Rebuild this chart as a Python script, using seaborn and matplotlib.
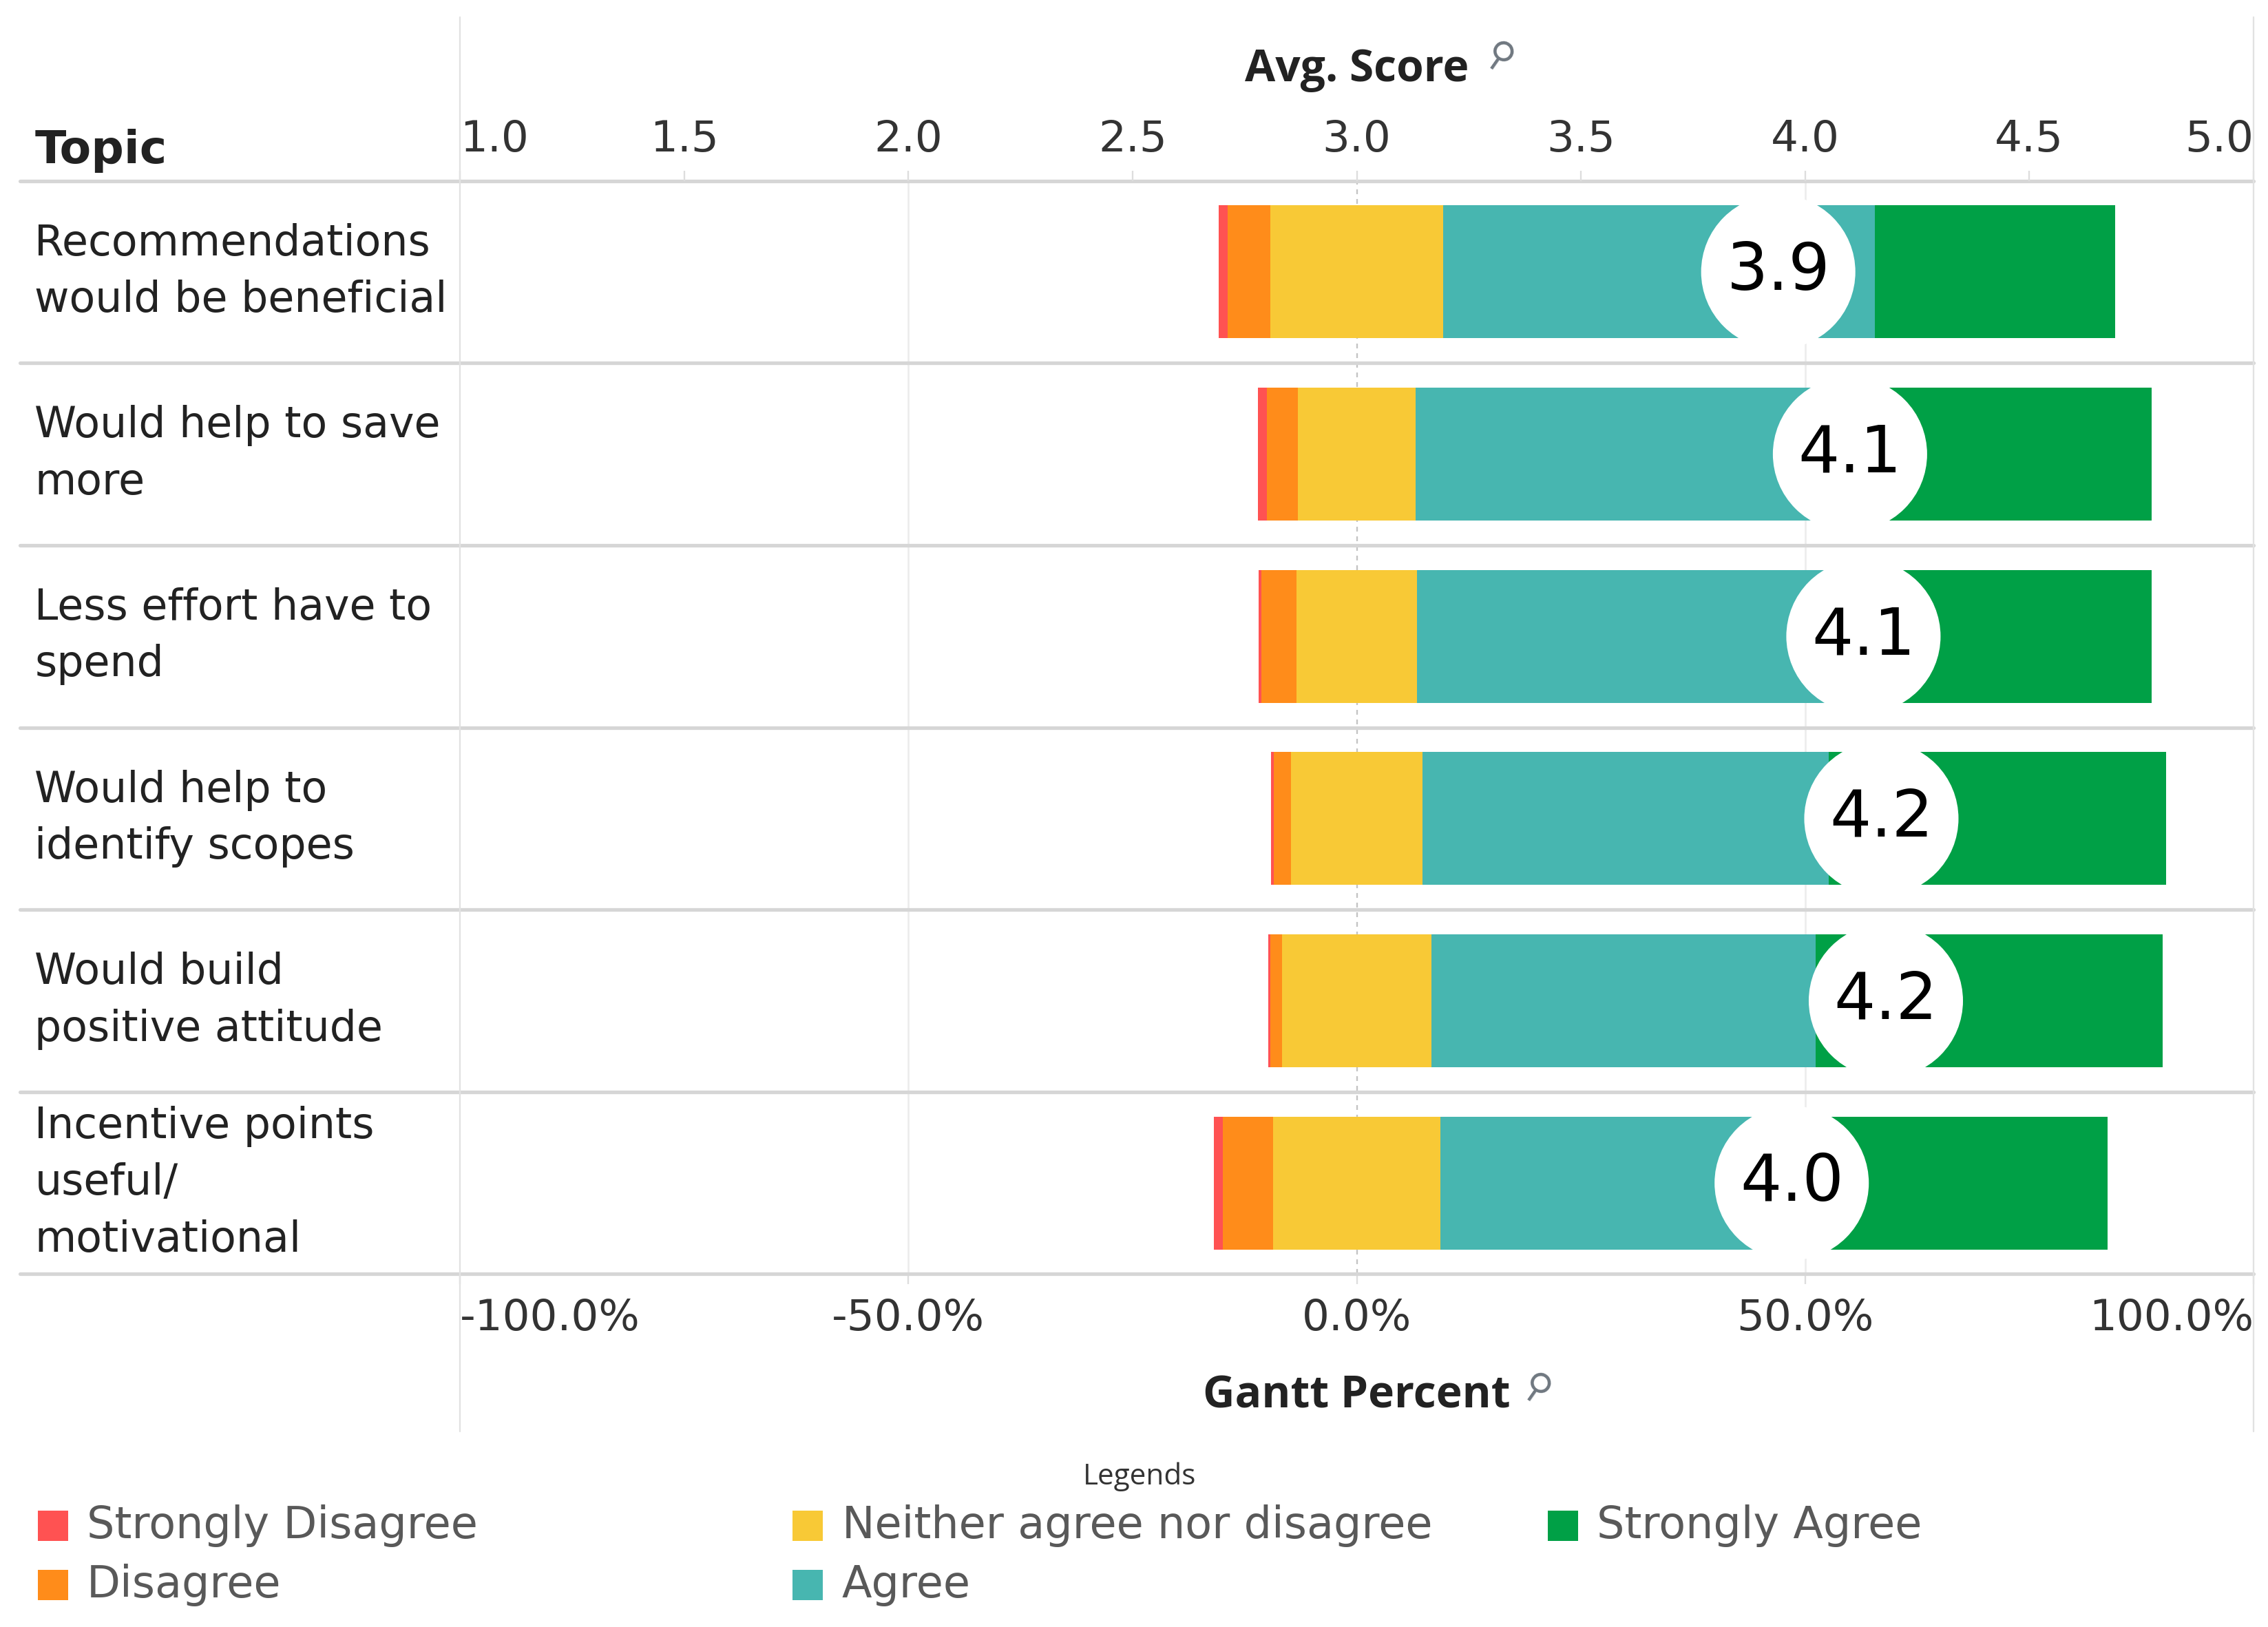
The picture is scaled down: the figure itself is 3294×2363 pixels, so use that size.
import matplotlib
matplotlib.use("Agg")
import numpy as np
import pandas as pd
import seaborn as sns
import matplotlib.pyplot as plt
from matplotlib.transforms import blended_transform_factory
from matplotlib.patches import Rectangle
from matplotlib.lines import Line2D

# survey data (percent of answers per topic)
topics = ["Recommendations\nwould be beneficial",
          "Would help to save\nmore",
          "Less effort have to\nspend",
          "Would help to\nidentify scopes",
          "Would build\npositive attitude",
          "Incentive points\nuseful/\nmotivational"]
levels = ["Strongly Disagree", "Disagree", "Neither agree nor disagree",
          "Agree", "Strongly Agree"]
strongly_disagree = [1.0, 1.0, 0.3, 0.3, 0.3, 1.0]
disagree = [4.8, 3.5, 3.9, 1.9, 1.3, 5.6]
neutral = [19.2, 13.1, 13.5, 14.7, 16.6, 18.7]
agree = [48.2, 47.5, 45.5, 45.3, 42.9, 43.4]
strongly_agree = [26.8, 34.6, 36.4, 37.6, 38.7, 31.0]
avg_score = [3.94, 4.10, 4.13, 4.17, 4.18, 3.97]
colors = ["#FF5252", "#FF8C1A", "#F8C936", "#47B6B0", "#00A046"]

pct_ticks = [-1.0, -0.5, 0.0, 0.5, 1.0]
score_ticks = [1.0, 1.5, 2.0, 2.5, 3.0, 3.5, 4.0, 4.5, 5.0]

sns.set_theme(style="white")
plt.rcParams["font.family"] = ["DejaVu Sans"]
TITLE_FONT = ["Open Sans", "DejaVu Sans"]

W, H = 1568, 1125  # layout helper (reference pixels / 2.1)
fig = plt.figure(figsize=(3294 / 210, 2363 / 210), dpi=210)
ax = fig.add_axes([318 / W, 1 - 881 / H, (1558 - 318) / W, (881 - 125) / H])

shares = pd.DataFrame({
    "topic": topics,
    levels[0]: strongly_disagree,
    levels[1]: disagree,
    levels[2]: neutral,
    levels[3]: agree,
    levels[4]: strongly_agree,
})
rows = np.arange(len(topics))
# diverging: the neutral block is centred on 0
left = -(shares[levels[0]] + shares[levels[1]] + shares[levels[2]] / 2) / 100
for lev, col in zip(levels, colors):
    w = shares[lev] / 100
    ax.barh(rows, w, left=left, height=0.73, color=col, edgecolor="none", zorder=3)
    left = left + w

ax.set_xlim(-1, 1)
ax.set_ylim(len(topics) - 0.5, -0.5)

# grid / separators
ax.axvline(-0.5, color="#ececec", lw=0.9, zorder=0.5)
ax.axvline(0.5, color="#ececec", lw=0.9, zorder=0.5)
ax.axvline(0.0, color="#c4c4c4", lw=0.8, ls=(0, (3, 3)), zorder=0.5)
for yy in np.arange(-0.5, len(topics), 1.0):
    ax.axhline(yy, xmin=-(318 - 14) / (1558 - 318), xmax=1, color="#d6d6d6",
               lw=1.8, clip_on=False, zorder=1)
for xx in [318, 1558]:
    fig.add_artist(Line2D([xx / W, xx / W], [1 - 12 / H, 1 - 990 / H],
                          transform=fig.transFigure, color="#e2e2e2", lw=0.8))

for s in ax.spines.values():
    s.set_visible(False)
ax.set_xticks(pct_ticks)
ax.set_xticklabels([f"{v * 100:.1f}%" for v in pct_ticks])
ax.tick_params(axis="x", bottom=True, length=5, width=0.8, color="#dddddd",
               labelsize=21.5, labelcolor="#333333", pad=7)
ax.tick_params(axis="y", left=False, labelleft=False)
lab = ax.get_xticklabels()
lab[0].set_ha("left")
lab[-1].set_ha("right")
ax.set_xlabel("Gantt Percent", fontsize=22, fontweight="bold", color="#222222",
              labelpad=17, family=TITLE_FONT)
ax.set_ylabel("")

# avg score axis on top + circles
ax2 = ax.twiny()
ax2.set_xlim(1, 5)
sns.scatterplot(x=avg_score, y=rows, s=5900, color="white", edgecolor="none",
                ax=ax2, legend=False, zorder=5)
for sc, r in zip(avg_score, rows):
    ax2.text(sc, r, f"{sc:.1f}", ha="center", va="center", fontsize=32.5,
             color="black", zorder=6)
for s in ax2.spines.values():
    s.set_visible(False)
ax2.set_ylim(len(topics) - 0.5, -0.5)
ax2.set_xticks(score_ticks)
ax2.set_xticklabels([f"{v:.1f}" for v in score_ticks])
ax2.tick_params(axis="x", top=True, length=5, width=0.8, color="#dddddd",
                labelsize=21.5, labelcolor="#333333", pad=5)
lab2 = ax2.get_xticklabels()
lab2[0].set_ha("left")
lab2[-1].set_ha("right")
ax2.set_xlabel("Avg. Score", fontsize=22, fontweight="bold", color="#222222",
               labelpad=19, family=TITLE_FONT)

fig.text(1036 / W, 1 - 40 / H, "\u26b2", fontsize=18, color="#6f7780",
         rotation=-35, ha="center", va="center")
fig.text(1062 / W, 1 - 961 / H, "\u26b2", fontsize=18, color="#6f7780",
         rotation=-35, ha="center", va="center")

# row headers
fig.text(24 / W, 1 - 113 / H, "Topic", fontsize=22.8, fontweight="bold",
         color="#222222", ha="left", va="baseline")
tr = blended_transform_factory(fig.transFigure, ax.transData)
for t, r in zip(topics, rows):
    ax.text(24 / W, r, t, transform=tr, ha="left", va="center", fontsize=21.2,
            color="#222222", linespacing=1.48)

# legend
fig.text(788 / W, 1 - 1021 / H, "Legends", fontsize=14.5, color="#333333",
         ha="center", va="center", family=TITLE_FONT)
col_x = [26, 548, 1070]
row_y = [1055, 1096]
for i, (lev, col) in enumerate(zip(levels, colors)):
    cx = col_x[i // 2]
    cy = row_y[i % 2]
    fig.add_artist(Rectangle((cx / W, 1 - (cy + 10.5) / H), 21 / W, 21 / H,
                             transform=fig.transFigure, color=col, lw=0))
    fig.text((cx + 34) / W, 1 - cy / H, lev, fontsize=21.8, color="#595959",
             ha="left", va="center")

fig.savefig("out.png", dpi=210, facecolor="white")
